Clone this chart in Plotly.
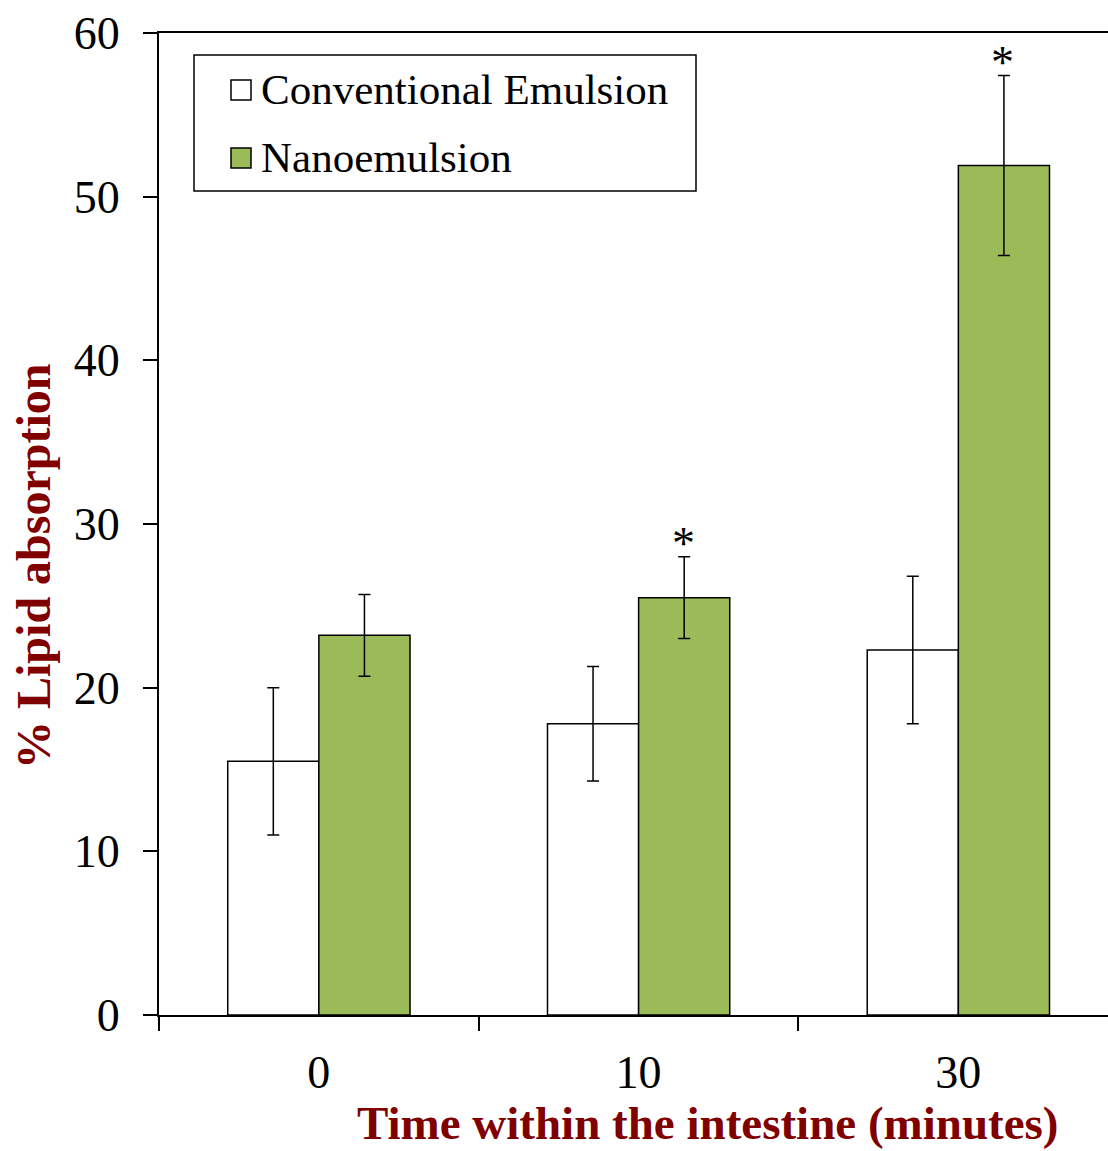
import plotly.graph_objects as go

categories = ["0", "10", "30"]
conventional = [15.5, 17.8, 22.3]
conventional_err = [4.5, 3.5, 4.5]
nano = [23.2, 25.5, 51.9]
nano_err = [2.5, 2.5, 5.5]
significant = [False, True, True]
series_names = ["Conventional Emulsion", "Nanoemulsion"]
y_ticks = [0, 10, 20, 30, 40, 50, 60]

FONT = "Liberation Serif"
GREEN = "#9BBB59"
MAROON = "#800000"
BARGAP = 0.43

fig = go.Figure()
fig.add_trace(go.Bar(
    x=categories, y=conventional, name=series_names[0],
    marker=dict(color="white", line=dict(color="black", width=1.5)),
    error_y=dict(type="data", array=conventional_err, color="black", thickness=1.5, width=6),
))
fig.add_trace(go.Bar(
    x=categories, y=nano, name=series_names[1],
    marker=dict(color=GREEN, line=dict(color="black", width=1.5)),
    error_y=dict(type="data", array=nano_err, color="black", thickness=1.5, width=6),
))

W, H = 1108, 1151
L, R, T, B = 159, 0, 33, 136
plot_w = W - L - R
plot_h = H - T - B
x_range = [-0.5, 2.468]
px_per_cat = plot_w / (x_range[1] - x_range[0])
nano_shift = (1 - BARGAP) / 4 * px_per_cat

annotations = []
for i, (v, e, s) in enumerate(zip(nano, nano_err, significant)):
    if s:
        annotations.append(dict(x=i, y=v + e, xref="x", yref="y", text="*", showarrow=False,
                                xshift=nano_shift - 1, yanchor="bottom", yshift=-14,
                                font=dict(family=FONT, size=46, color="black")))

annotations.append(dict(x=(33 - L) / plot_w, y=(1015 - 567) / plot_h, xref="paper", yref="paper",
                        text="<b>% Lipid absorption</b>", textangle=-90, showarrow=False,
                        xanchor="center", yanchor="middle",
                        font=dict(family=FONT, size=48, color=MAROON)))
annotations.append(dict(x=(708 - L) / plot_w, y=(1015 - 1123) / plot_h, xref="paper", yref="paper",
                        text="<b>Time within the intestine (minutes)</b>", showarrow=False,
                        xanchor="center", yanchor="middle",
                        font=dict(family=FONT, size=47, color=MAROON)))

def px_to_paper(xp, yp):
    return (xp - L) / plot_w, (1015 - yp) / plot_h

shapes = []
x0, y0 = px_to_paper(194, 55)
x1, y1 = px_to_paper(696, 191)
shapes.append(dict(type="rect", xref="paper", yref="paper", x0=x0, y0=y0, x1=x1, y1=y1,
                   line=dict(color="black", width=1.5), fillcolor="white", layer="above"))
legend_rows = [(90, "white"), (158, GREEN)]
for (yc, col), name in zip(legend_rows, series_names):
    sx0, sy0 = px_to_paper(231, yc - 10)
    sx1, sy1 = px_to_paper(251, yc + 10)
    shapes.append(dict(type="rect", xref="paper", yref="paper", x0=sx0, y0=sy0, x1=sx1, y1=sy1,
                       line=dict(color="black", width=1.5), fillcolor=col, layer="above"))
    tx, ty = px_to_paper(259, yc)
    annotations.append(dict(x=tx, y=ty, xref="paper", yref="paper", text=name, showarrow=False,
                            xanchor="left", yanchor="middle",
                            font=dict(family=FONT, size=43, color="black")))

fig.update_layout(
    width=W, height=H,
    margin=dict(l=L, r=R, t=T, b=B, pad=0),
    plot_bgcolor="white", paper_bgcolor="white",
    barmode="group", bargap=BARGAP, bargroupgap=0,
    showlegend=False,
    font=dict(family=FONT, size=44, color="black"),
    xaxis=dict(
        type="category", range=x_range, tickson="boundaries",
        ticks="outside", ticklen=14, tickwidth=2, tickcolor="black",
        showline=True, linecolor="black", linewidth=2, mirror=True,
        showgrid=False, zeroline=False,
        tickfont=dict(family=FONT, size=46), ticklabelstandoff=16,
    ),
    yaxis=dict(
        range=[0, 60], tickvals=y_ticks,
        ticks="outside", ticklen=14, tickwidth=2, tickcolor="black",
        showline=True, linecolor="black", linewidth=2,
        showgrid=False, zeroline=False,
        tickfont=dict(family=FONT, size=46), ticklabelstandoff=14,
    ),
    annotations=annotations,
    shapes=shapes,
)

fig.write_html("out.html", config={"displayModeBar": False},
               post_script="document.body.style.margin='0';document.body.style.overflow='hidden';")
